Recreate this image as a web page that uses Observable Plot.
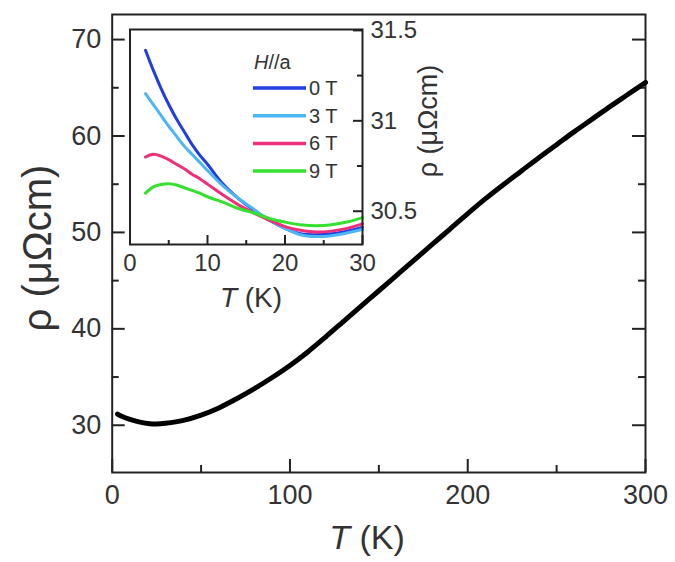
<!DOCTYPE html>
<html><head><meta charset="utf-8">
<script src="https://cdn.jsdelivr.net/npm/d3@7"></script>
<script src="https://cdn.jsdelivr.net/npm/@observablehq/plot@0.6"></script>
<style>
body{margin:0;background:#fff;}
#wrap{position:relative;width:675px;height:562px;overflow:hidden;font-family:"Liberation Sans",Arial,sans-serif;}
#wrap svg{position:absolute;left:0;top:0;}
</style></head><body><div id="wrap"></div>
<script>
// ---- main curve ----
const mainT   = [3, 5, 10, 15, 20, 25, 30, 40, 50, 60, 70, 80, 90, 100, 110, 120, 130, 140, 150, 160, 170, 180, 190, 200, 210, 220, 230, 240, 250, 260, 270, 280, 290, 300];
const mainRho = [31.15, 30.95, 30.6, 30.35, 30.18, 30.12, 30.2, 30.5, 31.05, 31.8, 32.75, 33.8, 34.95, 36.2, 37.6, 39.15, 40.75, 42.35, 43.95, 45.55, 47.15, 48.75, 50.35, 51.95, 53.5, 54.95, 56.35, 57.75, 59.1, 60.45, 61.75, 63.05, 64.3, 65.55];
const xMajor = [0, 100, 200, 300];
const xMinor = [50, 150, 250];
const yMajor = [30, 40, 50, 60, 70];
const yMinor = [35, 45, 55, 65];

// ---- inset ----
const insetT = [2, 3, 4, 5, 6, 7, 8, 9, 10, 12, 14, 16, 18, 20, 22, 24, 26, 28, 30];
const rho0T = [31.39, 31.28, 31.18, 31.09, 31.01, 30.94, 30.87, 30.81, 30.76, 30.65, 30.57, 30.505, 30.45, 30.405, 30.375, 30.37, 30.375, 30.39, 30.41];
const rho3T = [31.15, 31.09, 31.03, 30.97, 30.915, 30.86, 30.815, 30.77, 30.725, 30.64, 30.57, 30.51, 30.45, 30.405, 30.37, 30.36, 30.365, 30.38, 30.40];
const rho6T = [30.80, 30.815, 30.805, 30.785, 30.76, 30.735, 30.705, 30.68, 30.65, 30.59, 30.535, 30.49, 30.45, 30.415, 30.395, 30.385, 30.39, 30.405, 30.43];
const rho9T = [30.60, 30.635, 30.648, 30.652, 30.645, 30.63, 30.615, 30.60, 30.58, 30.55, 30.515, 30.49, 30.46, 30.44, 30.425, 30.42, 30.425, 30.44, 30.465];
const fields = ["0 T", "3 T", "6 T", "9 T"];
const fieldColors = ["#1f3de0", "#4cb6f4", "#ee2f7a", "#35e02f"];
const insetXMajor = [0, 10, 20, 30];
const insetXMinor = [5, 15, 25];
const insetYMajor = [30.5, 31, 31.5];
const insetYMinor = [30.75, 31.25];

const W = 675, H = 562;
const font = '"Liberation Sans", Arial, sans-serif';
const ink = "#222";
const labelInk = "#333";

const mainData = mainT.map((t, i) => ({T: t, rho: mainRho[i]}));
const insetSeries = [rho0T, rho3T, rho6T, rho9T];
const insetData = insetSeries.flatMap((arr, k) => arr.map((r, i) => ({T: insetT[i], rho: r, field: fields[k]})));

// main chart
const mL = 111.7, mR = 30, mT = 14, mB = 90;
const pw = W - mL - mR, ph = H - mT - mB;
const main = Plot.plot({
  width: W, height: H, marginLeft: mL, marginRight: mR, marginTop: mT, marginBottom: mB,
  style: {fontFamily: font, color: ink, background: "transparent", overflow: "visible"},
  x: {domain: [0, 300]},
  y: {domain: [25.1, 72.6]},
  marks: [
    Plot.tickY(yMajor, {y: d => d, insetRight: pw - 13, stroke: ink, strokeWidth: 2}),
    Plot.tickY(yMinor, {y: d => d, insetRight: pw - 7, stroke: ink, strokeWidth: 2}),
    Plot.tickY(yMajor, {y: d => d, insetLeft: pw - 13, stroke: ink, strokeWidth: 2}),
    Plot.tickY(yMinor, {y: d => d, insetLeft: pw - 7, stroke: ink, strokeWidth: 2}),
    Plot.tickX(xMajor, {x: d => d, insetTop: ph - 13, stroke: ink, strokeWidth: 2}),
    Plot.tickX(xMinor, {x: d => d, insetTop: ph - 7, stroke: ink, strokeWidth: 2}),
    Plot.frame({stroke: ink, strokeWidth: 2}),
    Plot.axisX({ticks: xMajor, tickSize: 0, tickPadding: 12, fontSize: 27, label: null, fill: labelInk}),
    Plot.axisY({ticks: yMajor, tickSize: 0, tickPadding: 11, fontSize: 27, label: null, fill: labelInk}),
    Plot.line(mainData, {x: "T", y: "rho", stroke: "black", strokeWidth: 5, curve: "catmull-rom"})
  ]
});

// inset chart
const iL = 129.5, iR = W - 362, iT = 29, iB = H - 244;
const ipw = W - iL - iR, iph = H - iT - iB;
const inset = Plot.plot({
  width: W, height: H, marginLeft: iL, marginRight: iR, marginTop: iT, marginBottom: iB,
  style: {fontFamily: font, color: ink, background: "transparent", overflow: "visible"},
  x: {domain: [0, 30]},
  y: {domain: [30.316, 31.505]},
  color: {domain: fields, range: fieldColors},
  marks: [
    Plot.frame({fill: "white", stroke: "none"}),
    Plot.line(insetData, {x: "T", y: "rho", stroke: "field", z: "field", strokeWidth: 3, curve: "catmull-rom"}),
    Plot.tickX(insetXMajor, {x: d => d, insetTop: iph - 9, stroke: ink, strokeWidth: 2}),
    Plot.tickX(insetXMinor, {x: d => d, insetTop: iph - 4, stroke: ink, strokeWidth: 2}),
    Plot.tickY(insetYMajor, {y: d => d, insetLeft: ipw - 9, stroke: ink, strokeWidth: 2}),
    Plot.tickY(insetYMinor, {y: d => d, insetLeft: ipw - 5, stroke: ink, strokeWidth: 2}),
    Plot.frame({stroke: ink, strokeWidth: 2}),
    Plot.axisX({ticks: insetXMajor, tickSize: 0, tickPadding: 9, fontSize: 24, label: null, fill: labelInk}),
    Plot.axisY({anchor: "right", ticks: insetYMajor, tickSize: 0, tickPadding: 8, fontSize: 24, label: null, fill: labelInk, tickFormat: d => String(d)})
  ]
});

const wrap = document.getElementById("wrap");
wrap.appendChild(main);
wrap.appendChild(inset);

// axis titles
function addText(svg, x, y, size, rotate, parts, anchor = "middle") {
  const t = d3.select(svg).append("text")
    .attr("transform", `translate(${x},${y})` + (rotate ? ` rotate(${rotate})` : ""))
    .attr("text-anchor", anchor).attr("dy", "0.35em")
    .attr("font-family", font).attr("font-size", size).attr("fill", labelInk);
  parts.forEach(([s, italic]) => {
    const ts = t.append("tspan").text(s);
    if (italic) ts.attr("font-style", "italic");
  });
  return t;
}
addText(main, 37, 248, 40, -90, [["ρ (μΩcm)", false]]);
addText(main, 367, 537, 34, 0, [["T", true], [" (K)", false]]);
addText(inset, 428, 121, 27, -90, [["ρ (μΩcm)", false]]);
addText(inset, 251, 297, 28, 0, [["T", true], [" (K)", false]]);

// legend inside inset
addText(inset, 254, 62, 20, 0, [["H", true], ["//a", false]], "start");
fields.forEach((f, i) => {
  const y = 88 + i * 27.7;
  d3.select(inset).append("line").attr("x1", 253).attr("x2", 306).attr("y1", y).attr("y2", y)
    .attr("stroke", fieldColors[i]).attr("stroke-width", 3.5);
  addText(inset, 309, y, 20, 0, [[f, false]], "start");
});
</script>
</body></html>
